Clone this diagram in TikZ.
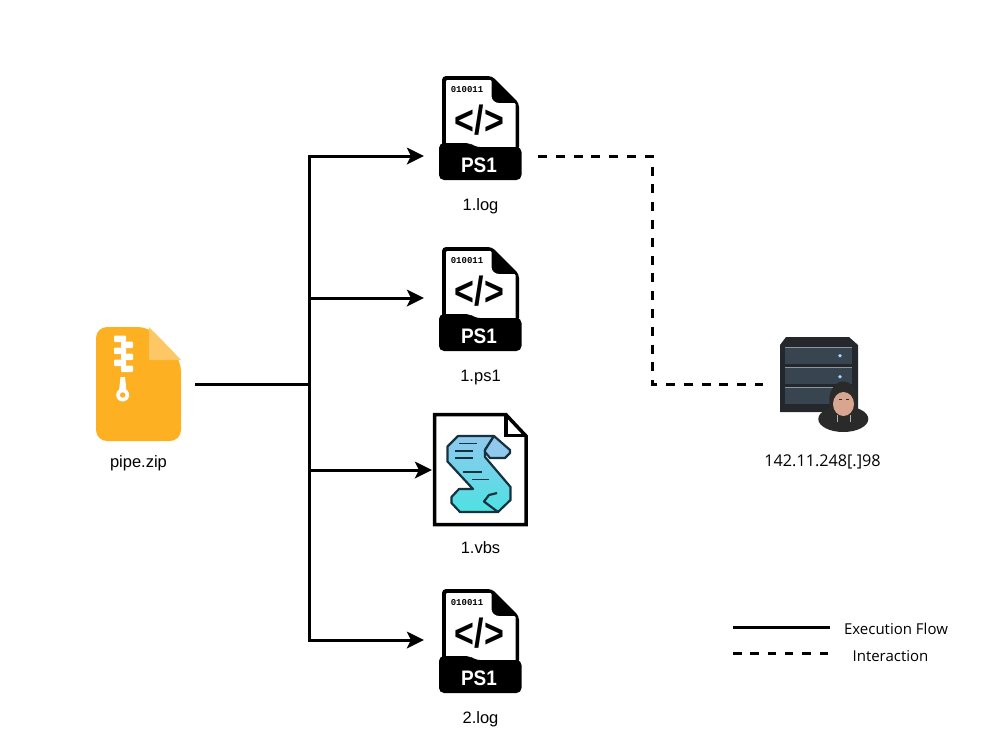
\documentclass[tikz,border=0pt]{standalone}
\usepackage{fontspec}
\setmainfont{Liberation Sans}
\setmonofont{Liberation Mono}
\newfontfamily\legendfont{Open Sans}
\usetikzlibrary{arrows.meta}

\definecolor{zipbody}{HTML}{FDB022}
\definecolor{zipfold}{HTML}{FDC765}
\definecolor{scrolltop}{HTML}{90C8EE}
\definecolor{scrollend}{HTML}{4CE2E2}
\definecolor{scrollink}{HTML}{16323F}
\definecolor{rackdark}{HTML}{24272C}
\definecolor{rackbay}{HTML}{38444F}
\definecolor{racklight}{HTML}{8C969C}
\definecolor{hood}{HTML}{2A2A2A}
\definecolor{skin}{HTML}{D8A590}

\tikzset{
	lbl/.style={font=\fontsize{16.5}{18}\selectfont, inner sep=0pt},
	legendlbl/.style={font=\legendfont\fontsize{15}{18}\selectfont, inner sep=0pt},
	hit/.style={inner sep=0pt, outer sep=0pt, minimum height=10pt},
	flow/.style={line width=3pt, -{Stealth[length=17pt,width=16.5pt,inset=4pt]}},
	flowline/.style={line width=3pt},
	inter/.style={line width=3pt, dash pattern=on 9pt off 8.8pt},
	% PS1 file, origin at the top left corner
	ps1icon/.pic={
		\fill[black, rounded corners=4pt] (3,0) -- (53,0) -- (80,27) -- (80,75) -- (3,75) -- cycle;
		\fill[white, rounded corners=1pt] (7,4) -- (52.5,4) -- (52.5,19) .. controls (52.5,24) and (56,27) .. (61,27) -- (76.5,27) -- (76.5,72) -- (7,72) -- cycle;
		\fill[black, rounded corners=5pt] (0,104) -- (0,67) -- (31,67) -- (36,71) -- (82.5,71) -- (82.5,104) -- cycle;
		\node[text=black, font=\ttfamily\bfseries\fontsize{9}{9}\selectfont, inner sep=0pt] (bin) at (28,13.5) {010011};
		\node[text=black, font=\bfseries\fontsize{34}{34}\selectfont, inner sep=0pt] (tag) at (40.5,44.5) {\scalebox{1}[1.2]{</>}};
		\node[text=white, font=\bfseries\fontsize{20}{20}\selectfont, inner sep=0pt] (kind) at (40,89) {\scalebox{.95}[1.05]{PS1}};
	},
	% scroll file, origin at the top left corner
	vbsicon/.pic={
		\draw[line width=3.5pt, fill=white, line join=miter] (1.7,1.7) -- (73,1.7) -- (93,23) -- (93,111.7) -- (1.7,111.7) -- cycle;
		\draw[line width=3.5pt, line join=miter] (73,1.7) -- (73,22.5) -- (93,22.5);
		\draw[line width=2.2pt, draw=scrollink, top color=scrolltop, bottom color=scrollend, line join=round]
			(25,23) -- (14.5,33.5) -- (14.5,48.5) -- (40,76) -- (26,76) -- (18.5,84) -- (18.5,90) -- (27,99) -- (65,99) -- (77.5,87) -- (77.5,74) -- (52,44) -- (52,37) -- (61,23) -- cycle;
		\draw[line width=2.2pt, draw=scrollink, fill=scrolltop, line join=round]
			(61,23) -- (77,37) -- (77,40) -- (72,45) -- (57,45) -- (52,39) -- (52,37) -- cycle;
		\draw[line width=2.2pt, draw=scrollink, line join=round] (65,99) -- (51,88.5) -- (56,82) -- (64,80);
		\draw[line width=1.5pt, draw=scrollink] (26,30.5) -- (44,30.5) (22,38) -- (40,38) (22,45) -- (40,45) (30,59) -- (49,59) (39,66.5) -- (56,66.5);
	},
	% zip file, origin at the top left corner
	zipicon/.pic={
		\fill[zipbody, rounded corners=11pt] (0,0) -- (53,0) -- (85,33) -- (85,114) -- (0,114) -- cycle;
		\fill[zipfold] (53,0) -- (85,33) -- (53,33) -- cycle;
		\foreach \rowy in {8.5,20.5,32.5} {
			\fill[white, rounded corners=1pt] (18,\rowy) rectangle (30,\rowy+6.5);
			\fill[white, rounded corners=1pt] (25,\rowy+6) rectangle (37,\rowy+12.5);
		}
		\fill[white] (24.5,50) -- (29,50) -- (30.5,64) -- (23,64) -- cycle;
		\fill[white] (26.7,68) circle (6.5pt);
		\fill[zipbody] (26.7,68) circle (2.7pt);
	},
	% server with the hooded figure, origin at the top left corner
	hackericon/.pic={
		\fill[rackdark] (6,0) -- (69,0) -- (78,8) -- (78,75) -- (0,75) -- (0,8) -- cycle;
		\foreach \bayy in {9.7,29.7,50.3} {
			\fill[rackbay] (5,\bayy) rectangle (72.3,\bayy+17);
			\fill[racklight] (5,\bayy) rectangle (72.3,\bayy+1);
		}
		\fill[cyan!40!white] (60,18.7) circle (1.8pt);
		\fill[cyan!40!white] (60,39.7) circle (1.8pt);
		\fill[hood] (63.3,82) ellipse (25pt and 13pt);
		\fill[hood] (63.3,63) ellipse (14pt and 18.5pt);
		\fill[skin] (63.5,67) ellipse (10.5pt and 12pt);
		\fill[hood] (58.5,62) rectangle (61.5,63);
		\fill[hood] (65.5,62) rectangle (68.5,63);
		\fill[white!70!black] (57,78) rectangle (58,85);
		\fill[white!70!black] (69.5,78) rectangle (70.5,85);
	}
}

\begin{document}
\begin{tikzpicture}[x=1pt, y=-1pt]
	\useasboundingbox (0,0) rectangle (994,748);
	
	% --- Icons
	\pic (zipico) at (96,327) {zipicon};
	\pic (logico) at (439,76) {ps1icon};
	\pic (psico) at (439,247) {ps1icon};
	\pic (vbsico) at (433,413) {vbsicon};
	\pic (logtwoico) at (439,589) {ps1icon};
	\pic (srvico) at (780,337) {hackericon};
	
	% --- Anchors of the connectors
	\node[hit, minimum width=113pt] (Zip) at (138.5,384) {};
	\node[hit, minimum width=114pt] (LogA) at (481,156) {};
	\node[hit, minimum width=114pt] (PsA) at (481,298) {};
	\node[hit, minimum width=98pt] (VbsA) at (481,470) {};
	\node[hit, minimum width=114pt] (LogB) at (481,640) {};
	\node[hit, minimum width=112pt] (Srv) at (819,384) {};
	\coordinate (Bus) at (309,384);
	\coordinate (Turn) at (652,384);
	
	% --- Labels
	\node[lbl] (tZip) at (138.5,463) {pipe.zip};
	\node[lbl] (tLogA) at (480.5,206.5) {1.log};
	\node[lbl] (tPsA) at (480.5,377.5) {1.ps1};
	\node[lbl] (tVbsA) at (480.5,548) {1.vbs};
	\node[lbl] (tLogB) at (480.5,719.5) {2.log};
	\node[legendlbl, font=\legendfont\fontsize{16.2}{18}\selectfont] (tSrv) at (822.5,462) {142.11.248[.]98};
	
	% --- Connectors
	\draw[flowline] (Zip.east) -- (Bus);
	\draw[flow] (Bus) |- (LogA.west);
	\draw[flow] (Bus) |- (PsA.west);
	\draw[flow] (Bus) |- (VbsA.west);
	\draw[flow] (Bus) |- (LogB.west);
	\draw[inter] (LogA.east) -| (Turn) -- (Srv.west);
	
	% --- Legend
	\coordinate (SolidA) at (733,627);
	\coordinate (SolidB) at (830,627);
	\coordinate (DashA) at (733,653);
	\coordinate (DashB) at (828,653);
	\draw[flowline] (SolidA) -- (SolidB);
	\draw[inter, dash pattern=on 8.5pt off 8.8pt] (DashA) -- (DashB);
	\node[legendlbl] (tFlow) at (896,629) {Execution Flow};
	\node[legendlbl] (tInter) at (890.5,656) {Interaction};
	
\end{tikzpicture}
\end{document}
